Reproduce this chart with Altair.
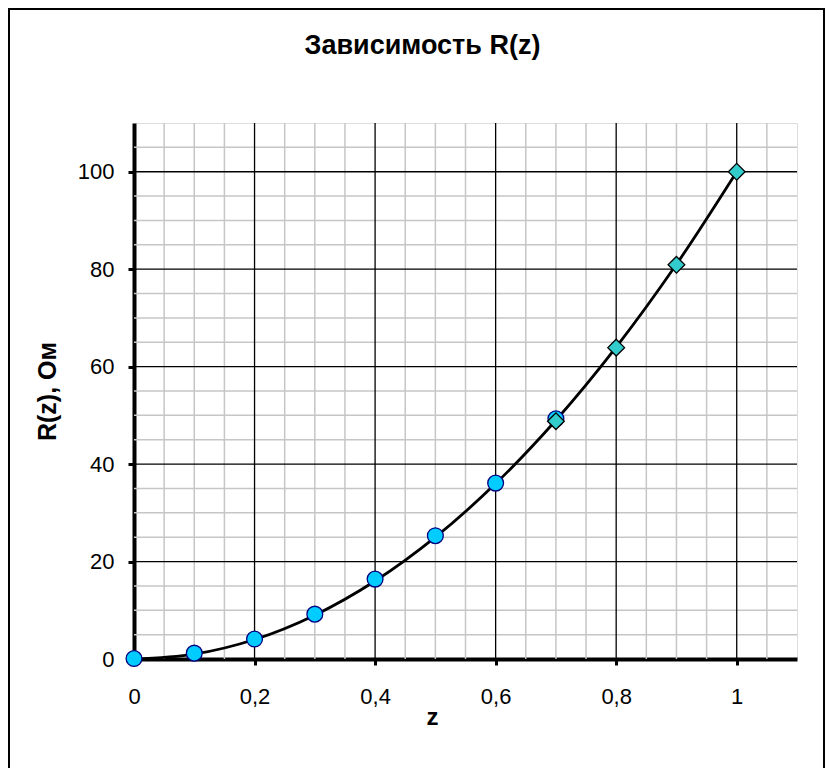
import altair as alt
import pandas as pd

# Data
z_circles = [0.0, 0.1, 0.2, 0.3, 0.4, 0.5, 0.6, 0.7]
r_circles = [0.1, 1.2, 4.1, 9.2, 16.4, 25.3, 36.1, 49.3]
z_diamonds = [0.7, 0.8, 0.9, 1.0]
r_diamonds = [48.8, 63.9, 80.9, 100.0]
z_curve = [0.0, 0.1, 0.2, 0.3, 0.4, 0.5, 0.6, 0.7, 0.8, 0.9, 1.0]
r_curve = [0.0, 1.0, 4.0, 9.0, 16.0, 25.0, 36.0, 49.0, 64.0, 81.0, 100.0]

x_ticks = [0, 0.2, 0.4, 0.6, 0.8, 1.0]
y_ticks = [0, 20, 40, 60, 80, 100]
x_minor = [0.05, 0.1, 0.15, 0.25, 0.3, 0.35, 0.45, 0.5, 0.55, 0.65, 0.7, 0.75,
           0.85, 0.9, 0.95, 1.05]
y_minor = [5, 10, 15, 25, 30, 35, 45, 50, 55, 65, 70, 75, 85, 90, 95, 105]
x_major = [0.2, 0.4, 0.6, 0.8, 1.0]
y_major = [20, 40, 60, 80, 100]

FONT = "Liberation Sans"

xaxis = alt.Axis(
    values=x_ticks, format="~g", labelExpr="replace(datum.label, '.', ',')",
    grid=False, domainColor="black", domainWidth=4, tickColor="black",
    tickWidth=3, tickSize=6, labelPadding=21, labelFontSize=22, labelFont=FONT,
    labelColor="black", labelFlush=False, labelOverlap=False,
    title="z", titleFont=FONT, titleFontSize=24,
    titleFontWeight="bold", titleColor="black", titleX=298, titleY=58,
    titleAlign="center", titleBaseline="middle", titleAngle=0,
)
yaxis = alt.Axis(
    values=y_ticks, grid=False, domainColor="black", domainWidth=4,
    tickColor="black", tickWidth=3, tickSize=6, labelPadding=14,
    labelFontSize=22, labelFont=FONT, labelColor="black", labelFlush=False,
    labelOverlap=False,
    title="R(z), Ом", titleFont=FONT, titleFontSize=25, titleFontWeight="bold",
    titleColor="black", titleX=-87, titleY=268, titleAngle=270,
    titleAlign="center", titleBaseline="middle",
)
xscale = alt.Scale(domain=[0, 1.1], nice=False, zero=False)
yscale = alt.Scale(domain=[0, 110], nice=False, zero=False)

circ = pd.DataFrame({"z": z_circles, "r": r_circles})
diam = pd.DataFrame({"z": z_diamonds, "r": r_diamonds})
curve = pd.DataFrame({"z": z_curve, "r": r_curve})

minor_x = alt.Chart(pd.DataFrame({"z": x_minor})).mark_rule(
    color="#c6c6c6", strokeWidth=1.5).encode(
    x=alt.X("z:Q", scale=xscale, axis=xaxis))
minor_y = alt.Chart(pd.DataFrame({"r": y_minor})).mark_rule(
    color="#c6c6c6", strokeWidth=1.5).encode(
    y=alt.Y("r:Q", scale=yscale, axis=yaxis))
major_x = alt.Chart(pd.DataFrame({"z": x_major})).mark_rule(
    color="black", strokeWidth=1.3).encode(
    x=alt.X("z:Q", scale=xscale, axis=xaxis))
major_y = alt.Chart(pd.DataFrame({"r": y_major})).mark_rule(
    color="black", strokeWidth=1.3).encode(
    y=alt.Y("r:Q", scale=yscale, axis=yaxis))

line = alt.Chart(curve).mark_line(
    color="black", strokeWidth=2.8, interpolate="catmull-rom").encode(
    x=alt.X("z:Q", scale=xscale, axis=xaxis),
    y=alt.Y("r:Q", scale=yscale, axis=yaxis))

pts_c = alt.Chart(circ).mark_point(
    shape="circle", filled=True, size=250, fill="#00CCFF", stroke="#000080",
    strokeWidth=1.3, opacity=1).encode(
    x=alt.X("z:Q", scale=xscale, axis=xaxis),
    y=alt.Y("r:Q", scale=yscale, axis=yaxis))

pts_d = alt.Chart(diam).mark_point(
    shape="diamond", filled=True, size=280, fill="#33CCCC", stroke="black",
    strokeWidth=1.3, opacity=1).encode(
    x=alt.X("z:Q", scale=xscale, axis=xaxis),
    y=alt.Y("r:Q", scale=yscale, axis=yaxis))

frame = alt.Chart(pd.DataFrame({"a": [0]})).mark_rect(
    fill=None, fillOpacity=0, stroke="black", strokeWidth=2).encode(
    x=alt.value(-125), x2=alt.value(690), y=alt.value(-114), y2=alt.value(700))

chart = alt.layer(
    frame, minor_x, minor_y, major_x, major_y, line, pts_c, pts_d
).properties(
    width=663, height=536,
    autosize=alt.AutoSizeParams(type="none"),
    padding={"left": 126, "top": 115, "right": 28, "bottom": 109},
    title=alt.TitleParams(
        "Зависимость R(z)", font=FONT, fontSize=27, fontWeight="bold",
        color="black", anchor="middle", dx=-43, baseline="alphabetic",
        offset=-73, frame="group"),
).configure_view(
    stroke="#808080", strokeWidth=2
).configure(background="white")

chart.save("out.html", embed_options={"renderer": "svg", "actions": False})
